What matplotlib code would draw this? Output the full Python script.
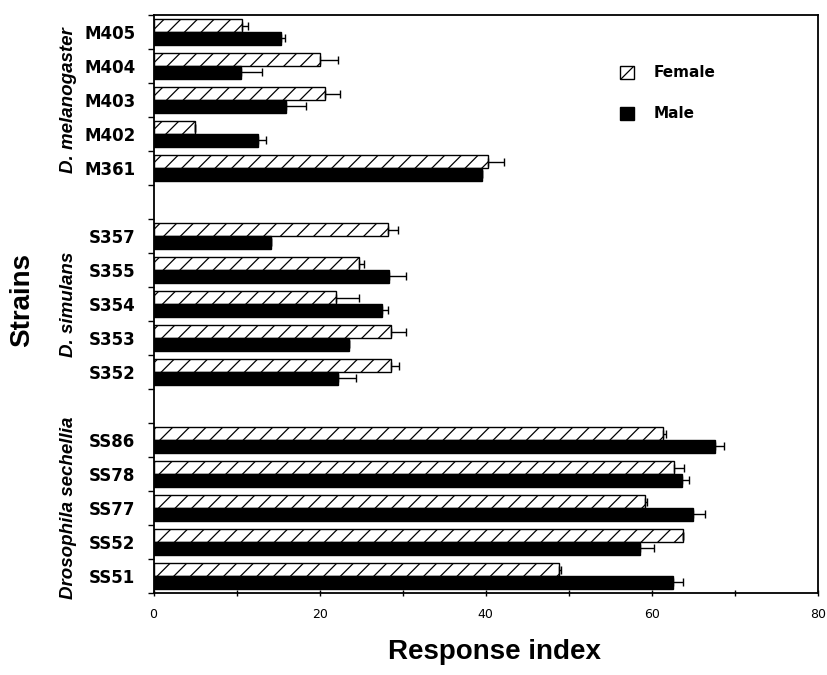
import numpy as np
import matplotlib
matplotlib.use('Agg')
import matplotlib.pyplot as plt
from matplotlib.patches import Patch

# Datos (de arriba hacia abajo)
strains = ['M405', 'M404', 'M403', 'M402', 'M361',
           'S357', 'S355', 'S354', 'S353', 'S352',
           'SS86', 'SS78', 'SS77', 'SS52', 'SS51']
female = [10.6, 20.0, 20.7, 5.0, 40.3,
          28.2, 24.8, 22.0, 28.6, 28.6,
          61.4, 62.7, 59.2, 63.7, 48.8]
female_err = [0.8, 2.2, 1.7, 0.0, 1.9,
              1.2, 0.6, 2.8, 1.8, 1.0,
              0.3, 1.2, 0.2, 0.0, 0.3]
male = [15.3, 10.5, 15.9, 12.6, 39.5,
        14.2, 28.4, 27.5, 23.5, 22.2,
        67.6, 63.6, 65.0, 58.6, 62.6]
male_err = [0.5, 2.6, 2.5, 0.9, 0.0,
            0.0, 2.0, 0.7, 0.0, 2.2,
            1.1, 0.9, 1.4, 1.6, 1.2]
species = ['D. melanogaster', 'D. simulans', 'Drosophila sechellia']
x_ticks = [0, 20, 40, 60, 80]

# Posiciones: 5 cepas por especie, un hueco entre grupos
n_slots = len(strains) + len(species) - 1
slot = np.array([i + i // 5 for i in range(len(strains))])
ypos = (n_slots - 1) - slot
h = 0.37

fig = plt.figure(figsize=(8.28, 6.75), dpi=100)
ax = fig.add_axes([0.1854, 0.1215, 0.8025, 0.8563])

plt.rcParams['hatch.linewidth'] = 0.9
ax.barh(ypos + h / 2, female, height=h, color='white', edgecolor='black',
        hatch='//', linewidth=1.0)
ax.barh(ypos - h / 2, male, height=h, color='black', edgecolor='black',
        linewidth=1.0)
ax.errorbar(female, ypos + h / 2, xerr=[np.zeros(len(female)), female_err],
            fmt='none', ecolor='black', elinewidth=1.0, capsize=3, capthick=1.0)
ax.errorbar(male, ypos - h / 2, xerr=[np.zeros(len(male)), male_err],
            fmt='none', ecolor='black', elinewidth=1.0, capsize=3, capthick=1.0)

ax.set_xlim(0, 80)
ax.set_ylim(-0.5, n_slots - 0.5)
ax.set_xticks(x_ticks)
ax.set_xticks(np.arange(0, 81, 10), minor=True)
ax.set_xticklabels([str(t) for t in x_ticks], fontsize=9)
ax.tick_params(axis='x', which='both', direction='inout', length=5, width=1, pad=8)

ax.set_yticks(ypos)
ax.set_yticklabels(strains, fontsize=12, fontweight='bold')
ax.set_yticks(np.arange(-0.5, n_slots, 1.0), minor=True)
ax.tick_params(axis='y', which='major', length=0, pad=13)
ax.tick_params(axis='y', which='minor', length=4, width=1, direction='out')

for sp in ax.spines.values():
    sp.set_linewidth(1.3)

# Nombres de especie en vertical
for g, name in enumerate(species):
    yc = ypos[g * 5:(g + 1) * 5].mean()
    ax.text(-0.128, yc, name, transform=ax.get_yaxis_transform(),
            rotation=90, ha='center', va='center', fontsize=13.5,
            style='italic', fontweight='bold', family='Liberation Sans')

fig.text(0.027, 0.555, 'Strains', rotation=90, ha='center', va='center',
         fontsize=20, fontweight='bold', family='Liberation Sans')
fig.text(0.597, 0.034, 'Response index', ha='center', va='center',
         fontsize=20, fontweight='bold', family='Liberation Sans')

handles = [Patch(facecolor='white', edgecolor='black', hatch='//', label='Female'),
           Patch(facecolor='black', edgecolor='black', label='Male')]
ax.legend(handles=handles, loc='upper left', bbox_to_anchor=(0.749, 0.903),
          bbox_transform=fig.transFigure, frameon=False, handlelength=0.9,
          handleheight=0.9, labelspacing=1.7, handletextpad=1.3, borderpad=0,
          borderaxespad=0, prop={'size': 11, 'weight': 'bold'})

plt.savefig('out.png', dpi=100)
